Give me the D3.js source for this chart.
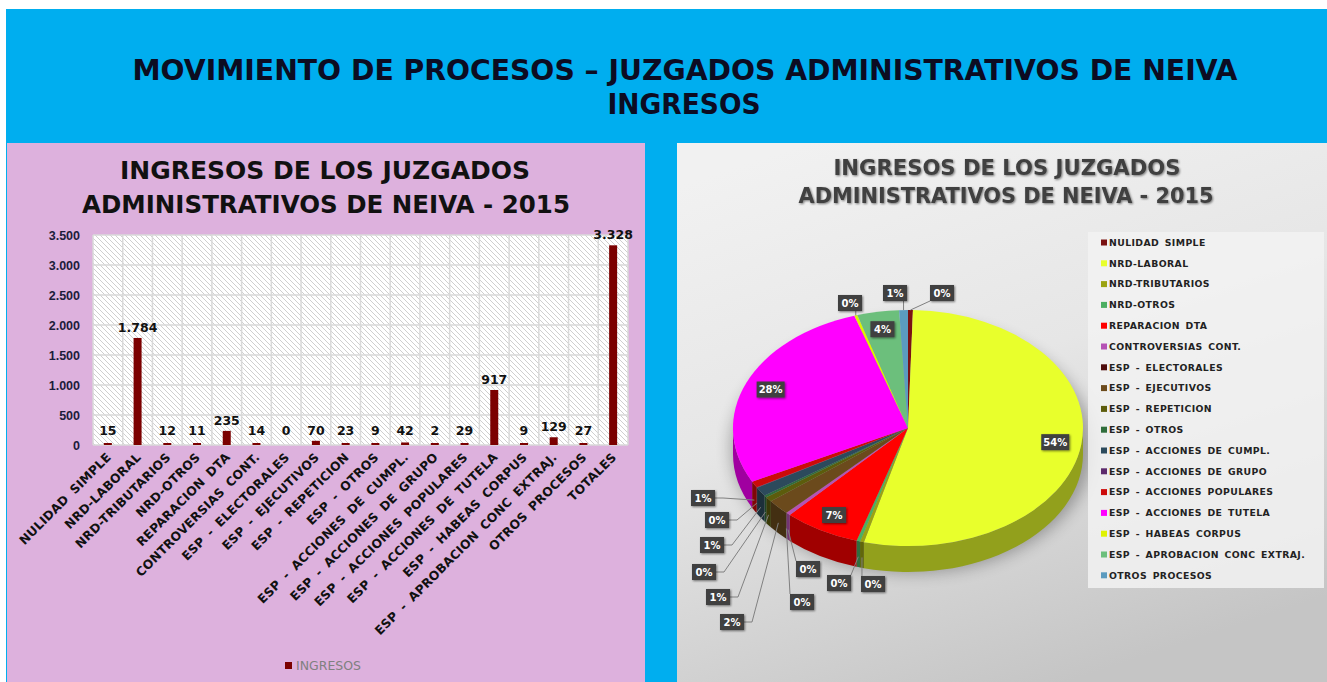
<!DOCTYPE html>
<meta charset="utf-8">
<style>
body { margin: 0; background: #fff; }
svg { display: block; font-family: "DejaVu Sans", sans-serif; }
.ttl { font-weight: bold; }
.ytick text { font-size: 12.5px; font-weight: bold; fill: #1c1c3a; }
.xlab { font-size: 12.3px; font-weight: bold; fill: #111; letter-spacing: 0.2px; word-spacing: 3px; }
.barlab { font-size: 12.5px; font-weight: bold; fill: #111; text-anchor: middle; }
.leg { font-size: 9.3px; font-weight: bold; fill: #222; letter-spacing: 0.4px; word-spacing: 2px; }
.pct { font-size: 10px; font-weight: bold; fill: #fff; text-anchor: middle; }
</style>
<body>
<script src="https://cdn.jsdelivr.net/npm/d3@7"></script>
<script>

// data
var categories = ["NULIDAD SIMPLE", "NRD-LABORAL", "NRD-TRIBUTARIOS", "NRD-OTROS", "REPARACION DTA",
  "CONTROVERSIAS CONT.", "ESP - ELECTORALES", "ESP - EJECUTIVOS", "ESP - REPETICION", "ESP - OTROS",
  "ESP - ACCIONES DE CUMPL.", "ESP - ACCIONES DE GRUPO", "ESP - ACCIONES POPULARES", "ESP - ACCIONES DE TUTELA",
  "ESP - HABEAS CORPUS", "ESP - APROBACION CONC EXTRAJ.", "OTROS PROCESOS", "TOTALES"];
var ingresos = [15, 1784, 12, 11, 235, 14, 0, 70, 23, 9, 42, 2, 29, 917, 9, 129, 27, 3328];
var yTicks = [0, 500, 1000, 1500, 2000, 2500, 3000, 3500];

// pie uses everything but the total
var pieCats = categories.slice(0, 17);
var pieVals = ingresos.slice(0, 17);
var pieColors = ["#7a1212", "#e8ff2c", "#9ba312", "#4caf62", "#ff0000", "#b552b5", "#4d0c0c", "#6b4a1c",
  "#5c5c0c", "#2f6d3b", "#2c4a5c", "#5c2a6c", "#cc0a0a", "#ff00ff", "#dff200", "#6cbf7c", "#5b9bbf"];
// label boxes of the thin slices, offsets from the pie centre (null = inside the slice)
var pieLabelSpots = [[34, -135], null, [-35, 156], [-69, 155], null, [-100, 141], [-106, 174], [-176, 194],
  [-190, 169], [-204, 144], [-196, 117], [-191, 92], [-205, 70], null, [-58, -125], null, [-13, -135]];

var W = 1327, H = 682;
var svg = d3.select("body").append("svg").attr("width", W).attr("height", H);
var defs = svg.append("defs");

// hatch
var pat = defs.append("pattern").attr("id", "hatch").attr("patternUnits", "userSpaceOnUse")
  .attr("width", 5).attr("height", 5);
pat.append("rect").attr("width", 5).attr("height", 5).attr("fill", "#fff");
pat.append("path").attr("d", "M-1,-1L6,6M-1,4L1,6M4,-1L6,1").attr("stroke", "#cfcfcf").attr("stroke-width", 1);

var grad = defs.append("linearGradient").attr("id", "bgR").attr("x1", 0.2).attr("y1", 0).attr("x2", 0.6).attr("y2", 1);
grad.append("stop").attr("offset", 0).attr("stop-color", "#f1f1f1");
grad.append("stop").attr("offset", 0.45).attr("stop-color", "#e6e6e6");
grad.append("stop").attr("offset", 1).attr("stop-color", "#c5c5c5");

var blur = defs.append("filter").attr("id", "blur").attr("x", "-30%").attr("y", "-30%").attr("width", "160%").attr("height", "160%");
blur.append("feGaussianBlur").attr("stdDeviation", 8);
var ds = defs.append("filter").attr("id", "ds").attr("x", "-30%").attr("y", "-30%").attr("width", "160%").attr("height", "160%");
ds.append("feDropShadow").attr("dx", 1).attr("dy", 1).attr("stdDeviation", 1).attr("flood-color", "#000").attr("flood-opacity", 0.5);

// backgrounds
svg.append("rect").attr("x", 6).attr("y", 9).attr("width", W - 6).attr("height", H - 9).attr("fill", "#00aeef");
svg.append("rect").attr("x", 7).attr("y", 143).attr("width", 638).attr("height", H - 143).attr("fill", "#ddb1dd");
svg.append("rect").attr("x", 677).attr("y", 143).attr("width", W - 677).attr("height", H - 143).attr("fill", "url(#bgR)");

// main title
svg.append("text").attr("class", "ttl").attr("x", 685).attr("y", 80).attr("text-anchor", "middle")
  .attr("font-size", 29).attr("fill", "#0c0c22")
  .attr("textLength", 1105).attr("lengthAdjust", "spacingAndGlyphs")
  .text("MOVIMIENTO  DE PROCESOS – JUZGADOS ADMINISTRATIVOS  DE NEIVA");
svg.append("text").attr("class", "ttl").attr("x", 684).attr("y", 114).attr("text-anchor", "middle")
  .attr("font-size", 29).attr("fill", "#0c0c22")
  .attr("textLength", 153).attr("lengthAdjust", "spacingAndGlyphs")
  .text("INGRESOS");

// ---------- bar chart ----------
var x = d3.scaleBand().domain(categories).range([93, 628]);
var y = d3.scaleLinear().domain([0, 3500]).range([445, 235]);
var fmt = d3.formatLocale({decimal: ",", thousands: ".", grouping: [3], currency: ["$", ""]}).format(",d");

svg.append("text").attr("class", "ttl").attr("x", 325).attr("y", 179).attr("text-anchor", "middle")
  .attr("font-size", 25).attr("fill", "#111").attr("textLength", 410).attr("lengthAdjust", "spacingAndGlyphs")
  .text("INGRESOS  DE LOS JUZGADOS");
svg.append("text").attr("class", "ttl").attr("x", 326).attr("y", 213).attr("text-anchor", "middle")
  .attr("font-size", 25).attr("fill", "#111").attr("textLength", 488).attr("lengthAdjust", "spacingAndGlyphs")
  .text("ADMINISTRATIVOS  DE NEIVA - 2015");

var bar = svg.append("g");
bar.append("rect").attr("x", 93).attr("y", 235).attr("width", 535).attr("height", 210).attr("fill", "url(#hatch)");

// grid
bar.append("g").selectAll("line").data(yTicks).enter().append("line")
  .attr("x1", 93).attr("x2", 628).attr("y1", function(d) { return y(d); }).attr("y2", function(d) { return y(d); })
  .attr("stroke", "#d9d9d9").attr("stroke-width", 1.5);
bar.append("g").selectAll("line").data(categories.concat(["_end"])).enter().append("line")
  .attr("x1", function(d, i) { return 93 + i * x.step(); }).attr("x2", function(d, i) { return 93 + i * x.step(); })
  .attr("y1", 235).attr("y2", 445).attr("stroke", "#d9d9d9").attr("stroke-width", 1.5);

// y axis
var ya = bar.append("g").attr("class", "ytick").attr("transform", "translate(84,0)")
  .call(d3.axisLeft(y).tickValues(yTicks).tickFormat(fmt).tickSize(0).tickPadding(4));
ya.select(".domain").remove();

// bars
bar.selectAll(".bar").data(ingresos).enter().append("rect").attr("class", "bar")
  .attr("x", function(d, i) { return x(categories[i]) + x.bandwidth() / 2 - 4; })
  .attr("width", 8)
  .attr("y", function(d) { return d > 0 ? Math.min(y(d), 443) : 445; })
  .attr("height", function(d) { return d > 0 ? Math.max(445 - y(d), 2) : 0; })
  .attr("fill", "#7b0000");

bar.selectAll(".barlab").data(ingresos).enter().append("text").attr("class", "barlab")
  .attr("x", function(d, i) { return x(categories[i]) + x.bandwidth() / 2; })
  .attr("y", function(d) { return Math.min(y(d), 441) - 6; })
  .text(function(d) { return fmt(d); });

// x labels
bar.selectAll(".xlab").data(categories).enter().append("text").attr("class", "xlab")
  .attr("text-anchor", "end")
  .attr("transform", function(d) { return "translate(" + (x(d) + x.bandwidth() / 2 + 4) + ",458) rotate(-45)"; })
  .text(function(d) { return d; });

// legend
bar.append("rect").attr("x", 285).attr("y", 662).attr("width", 7).attr("height", 7).attr("fill", "#7b0000");
bar.append("text").attr("x", 296).attr("y", 670).attr("font-size", 12.5).attr("fill", "#808080").text("INGRESOS");

// ---------- pie chart ----------
svg.append("text").attr("class", "ttl").attr("x", 1007).attr("y", 175).attr("text-anchor", "middle")
  .attr("font-size", 21).attr("fill", "#404040").attr("filter", "url(#ds)")
  .attr("textLength", 347).attr("lengthAdjust", "spacingAndGlyphs").text("INGRESOS DE LOS JUZGADOS");
svg.append("text").attr("class", "ttl").attr("x", 1006).attr("y", 203).attr("text-anchor", "middle")
  .attr("font-size", 21).attr("fill", "#404040").attr("filter", "url(#ds)")
  .attr("textLength", 415).attr("lengthAdjust", "spacingAndGlyphs").text("ADMINISTRATIVOS DE NEIVA - 2015");

var cx = 908, cy = 428, rx = 175, ry = 118, depth = 26;
var total = d3.sum(pieVals);
var arcs = d3.pie().sort(null).value(function(d) { return d; })(pieVals);

function pt(a, k) { return [cx + rx * k * Math.sin(a), cy - ry * k * Math.cos(a)]; }
function topPath(d) {
  if (d.endAngle - d.startAngle <= 0) return null;
  var p0 = pt(d.startAngle, 1), p1 = pt(d.endAngle, 1);
  var large = d.endAngle - d.startAngle > Math.PI ? 1 : 0;
  return "M" + cx + "," + cy + "L" + p0 + "A" + rx + "," + ry + " 0 " + large + " 1 " + p1 + "Z";
}
function sidePath(d) {
  var a0 = Math.max(d.startAngle, Math.PI / 2), a1 = Math.min(d.endAngle, 3 * Math.PI / 2);
  if (a1 <= a0) return null;
  var p0 = pt(a0, 1), p1 = pt(a1, 1);
  return "M" + p0 + "A" + rx + "," + ry + " 0 0 1 " + p1 + "L" + p1[0] + "," + (p1[1] + depth) +
    "A" + rx + "," + ry + " 0 0 0 " + p0[0] + "," + (p0[1] + depth) + "Z";
}

var pie = svg.append("g");
pie.append("ellipse").attr("cx", cx + 4).attr("cy", cy + depth / 2 + 6).attr("rx", rx + 6).attr("ry", ry + 8)
  .attr("fill", "#000").attr("opacity", 0.3).attr("filter", "url(#blur)");

pie.selectAll(".side").data(arcs).enter().append("path").attr("class", "side")
  .attr("d", sidePath)
  .attr("fill", function(d, i) { return d3.color(pieColors[i]).darker(1.3); });
pie.selectAll(".top").data(arcs).enter().append("path").attr("class", "top")
  .attr("d", topPath)
  .attr("fill", function(d, i) { return pieColors[i]; });

// percentage labels
arcs.forEach(function(d, i) {
  var mid = (d.startAngle + d.endAngle) / 2;
  var txt = Math.round(pieVals[i] / total * 100) + "%";
  var w = txt.length > 2 ? 28 : 24, h = 16, bx, by;
  var spot = pieLabelSpots[i];
  if (spot === null) {
    var c = pt(mid, 0.85);
    bx = c[0]; by = c[1];
  } else {
    bx = cx + spot[0]; by = cy + spot[1];
    var front = mid > Math.PI / 2 && mid < 3 * Math.PI / 2;
    var anc = pt(mid, 1);
    if (front) anc[1] += depth * 0.6;
    var ex = Math.max(bx - w / 2, Math.min(anc[0], bx + w / 2));
    var ey = Math.max(by - h / 2, Math.min(anc[1], by + h / 2));
    var pts = [[ex, ey]];
    if (spot[0] < -120) { ex = bx + w / 2; ey = by; pts = [[ex, ey], [ex + 8, ey]]; }
    pts.push(anc);
    pie.append("path").attr("d", d3.line()(pts)).attr("fill", "none").attr("stroke", "#808080").attr("stroke-width", 1);
  }
  pie.append("rect").attr("x", bx - w / 2).attr("y", by - h / 2).attr("width", w).attr("height", h)
    .attr("fill", "#404040").attr("filter", "url(#ds)");
  pie.append("text").attr("class", "pct").attr("x", bx).attr("y", by + 3.7).text(txt);
});

// legend
var leg = svg.append("g");
leg.append("rect").attr("x", 1088).attr("y", 232).attr("width", 236).attr("height", 356).attr("fill", "#f2f2f2").attr("opacity", 0.85);
var li = leg.selectAll(".li").data(pieCats).enter().append("g").attr("class", "li")
  .attr("transform", function(d, i) { return "translate(1101," + (242.5 + i * 20.8) + ")"; });
li.append("rect").attr("x", 0).attr("y", -3).attr("width", 6).attr("height", 6)
  .attr("fill", function(d, i) { return pieColors[i]; });
li.append("text").attr("class", "leg").attr("x", 8).attr("y", 3.3).text(function(d) { return d; });

</script>
</body>
